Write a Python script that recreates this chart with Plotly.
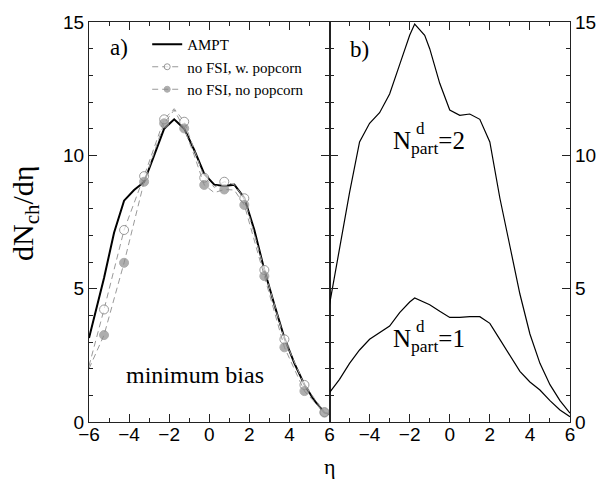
import plotly.graph_objects as go

# Panel a: AMPT minimum-bias curve
eta_ampt = [-6, -5.25, -4.75, -4.25, -3.75, -3.25, -2.75, -2.25, -1.75, -1.25, -0.75,
            -0.25, 0.25, 0.75, 1.25, 1.75, 2.25, 2.75, 3.25, 3.75, 4.25, 4.75, 5.25, 5.75, 6]
dn_ampt = [3.15, 5.4, 7.1, 8.3, 8.7, 9.0, 10.0, 11.0, 11.35, 11.0, 10.2,
           9.3, 8.9, 8.85, 8.9, 8.4, 7.2, 5.7, 4.4, 3.15, 2.2, 1.4, 0.8, 0.35, 0.3]

# Panel a: no-FSI curves; circles mark the sampled eta values
eta_nofsi = [-6, -5.25, -4.25, -3.25, -2.25, -1.75, -1.25, -0.75, -0.25, 0.25,
             0.75, 1.25, 1.75, 2.75, 3.75, 4.75, 5.75, 6]
dn_popcorn = [2.1, 4.22, 7.2, 9.22, 11.35, 11.75, 11.26, 10.2, 9.16, 8.8,
              9.01, 8.9, 8.39, 5.7, 3.1, 1.39, 0.37, 0.3]
dn_nopopcorn = [2.0, 3.26, 5.97, 9.01, 11.2, 11.7, 11.01, 10.0, 8.89, 8.6,
                8.72, 8.7, 8.14, 5.47, 2.8, 1.16, 0.35, 0.3]
eta_sampled = [-5.25, -4.25, -3.25, -2.25, -1.25, -0.25, 0.75, 1.75, 2.75, 3.75, 4.75, 5.75]

# Panel b: curves for fixed number of deuteron participants
eta_b = [-6, -5.5, -5, -4.5, -4, -3.5, -3, -2.5, -2, -1.75, -1.25, -1, -0.5, 0, 0.5,
         1, 1.5, 2, 2.5, 3, 3.5, 4, 4.5, 5, 5.5, 6]
dn_npart2 = [4.4, 6.5, 8.6, 10.5, 11.2, 11.6, 12.3, 13.4, 14.5, 14.92, 14.5, 14.0, 12.7,
             11.7, 11.5, 11.55, 11.35, 10.5, 8.4, 6.6, 4.8, 3.3, 2.2, 1.4, 0.8, 0.33]
dn_npart1 = [1.1, 1.6, 2.2, 2.7, 3.1, 3.35, 3.6, 4.1, 4.5, 4.65, 4.5, 4.4, 4.15,
             3.92, 3.92, 3.95, 3.95, 3.7, 3.1, 2.5, 1.9, 1.5, 1.2, 0.8, 0.45, 0.2]

xticks_a = [-6, -4, -2, 0, 2, 4, 6]
xticks_b = [-4, -2, 0, 2, 4, 6]
yticks = [0, 5, 10, 15]

SERIF = "Liberation Serif"
SANS = "Liberation Sans"
GRAY = "#8c8c8c"
DASH_GRAY = "#999999"
MARKER_SIZE = 9

marker_sizes = [MARKER_SIZE if e in eta_sampled else 0 for e in eta_nofsi]

fig = go.Figure()

fig.add_trace(go.Scatter(x=eta_ampt, y=dn_ampt, mode="lines", name="AMPT",
                         line=dict(color="black", width=2), xaxis="x", yaxis="y"))
fig.add_trace(go.Scatter(x=eta_nofsi, y=dn_popcorn, mode="lines+markers",
                         name="no FSI, w. popcorn",
                         line=dict(color=DASH_GRAY, width=1, dash="6px,4px"),
                         marker=dict(size=marker_sizes, color="white",
                                     line=dict(color="#707070", width=1)),
                         xaxis="x", yaxis="y"))
fig.add_trace(go.Scatter(x=eta_nofsi, y=dn_nopopcorn, mode="lines+markers",
                         name="no FSI, no popcorn",
                         line=dict(color=DASH_GRAY, width=1, dash="6px,4px"),
                         marker=dict(size=marker_sizes, color=GRAY,
                                     line=dict(color=GRAY, width=1)),
                         xaxis="x", yaxis="y"))

fig.add_trace(go.Scatter(x=eta_b, y=dn_npart2, mode="lines", showlegend=False,
                         line=dict(color="black", width=1.2), xaxis="x2", yaxis="y2"))
fig.add_trace(go.Scatter(x=eta_b, y=dn_npart1, mode="lines", showlegend=False,
                         line=dict(color="black", width=1.2), xaxis="x2", yaxis="y2"))

axis_common = dict(showline=True, linecolor="#222", linewidth=1.2, mirror="ticks",
                   ticks="inside", tickcolor="#222", tickwidth=1, showgrid=False,
                   zeroline=False, tickfont=dict(family=SANS, size=19, color="black"))
minor_ticks = dict(dtick=1, ticklen=4, ticks="inside", tickcolor="#222")

fig.update_layout(
    width=616, height=481,
    margin=dict(l=89, r=46, t=22, b=59),
    plot_bgcolor="white", paper_bgcolor="white",
    xaxis=dict(domain=[0, 0.5], range=[-6, 6], tickvals=xticks_a, ticklen=8,
               minor=minor_ticks, anchor="y", ticklabelstandoff=-5, **axis_common),
    xaxis2=dict(domain=[0.5, 1], range=[-6, 6], tickvals=xticks_b, ticklen=8,
                minor=minor_ticks, anchor="y2", ticklabelstandoff=-5, **axis_common),
    # en-space suffix keeps the left labels clear of the axis line
    yaxis=dict(range=[0, 15], tickvals=yticks, ticklen=8, minor=minor_ticks,
               anchor="x", ticksuffix="\u2002", **axis_common),
    yaxis2=dict(range=[0, 15], tickvals=yticks, ticklen=8, side="right",
                minor=minor_ticks, anchor="x2", **axis_common),
    legend=dict(x=0.121, y=0.985, xanchor="left", yanchor="top",
                bgcolor="rgba(0,0,0,0)", borderwidth=0, tracegroupgap=0,
                font=dict(family=SERIF, size=15, color="black")),
    showlegend=True,
)

ann_font = dict(family=SERIF, color="black")
fig.add_annotation(text="dN<sub>ch</sub>/dη", xref="paper", yref="paper",
                   x=-0.133, y=0.5225, xanchor="center", yanchor="middle", textangle=-90,
                   showarrow=False, font=dict(size=30, **ann_font))
fig.add_annotation(text="η", xref="paper", yref="paper", x=0.5, y=-0.1475,
                   xanchor="center", yanchor="bottom", showarrow=False,
                   font=dict(size=22, **ann_font))
fig.add_annotation(text="a)", xref="x domain", yref="y domain", x=0.079, y=0.9375,
                   xanchor="left", yanchor="middle", showarrow=False,
                   font=dict(size=23, **ann_font))
fig.add_annotation(text="b)", xref="x2 domain", yref="y2 domain", x=0.075, y=0.93,
                   xanchor="left", yanchor="middle", showarrow=False,
                   font=dict(size=23, **ann_font))
fig.add_annotation(text="minimum bias", xref="x domain", yref="y domain", x=0.442, y=0.118,
                   xanchor="center", yanchor="middle", showarrow=False,
                   font=dict(size=24, **ann_font))

for label, yd in (("=2", 0.7), ("=1", 0.205)):
    fig.add_annotation(text="N<sub>part</sub>" + label, xref="x2 domain", yref="y2 domain",
                       x=0.415, y=yd, xanchor="center", yanchor="middle", showarrow=False,
                       font=dict(size=25, **ann_font))
    fig.add_annotation(text="d", xref="x2 domain", yref="y2 domain",
                       x=0.38, y=yd + 0.035, xanchor="center", yanchor="middle",
                       showarrow=False, font=dict(size=17, **ann_font))

fig.write_html("out.html")
